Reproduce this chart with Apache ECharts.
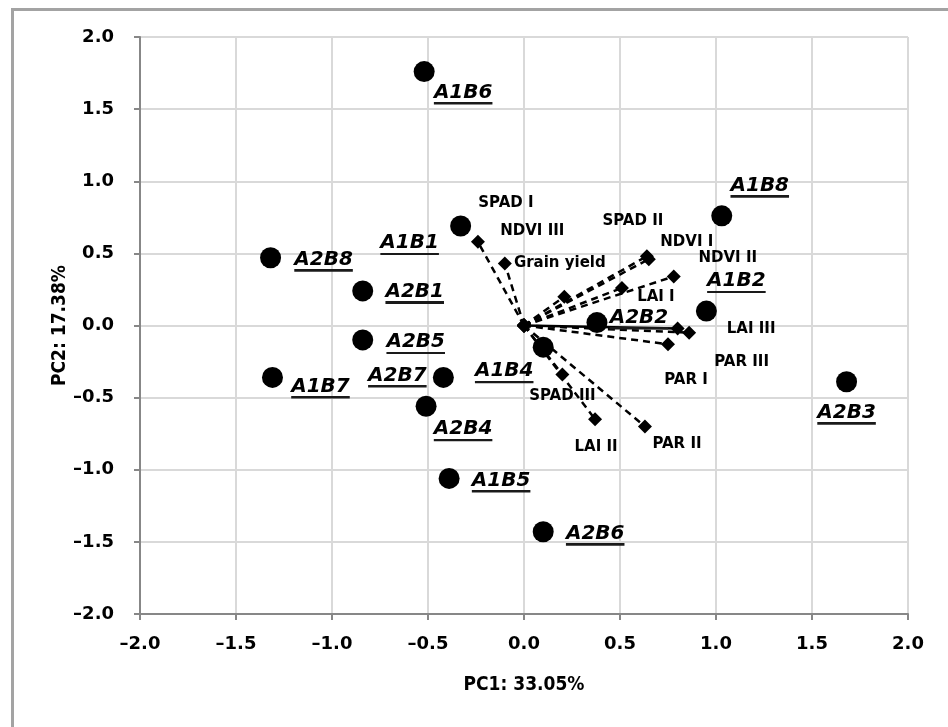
<!DOCTYPE html>
<html>
<head>
<meta charset="utf-8">
<script src="https://cdn.jsdelivr.net/npm/echarts@6/dist/echarts.min.js"></script>
<style>
html, body { margin: 0; padding: 0; background: #fff; overflow: hidden; width: 948px; height: 727px; }
#frame { position: absolute; left: 11px; top: 8px; width: 940px; height: 720px;
  border-left: 3px solid #a3a3a3; border-top: 3px solid #a3a3a3; box-sizing: border-box; }
#chart { position: absolute; left: 0; top: 0; width: 948px; height: 727px; }
</style>
</head>
<body>
<div id="frame"></div>
<div id="chart"></div>
<script>
// PCA 双标图 - 样本得分
const obsNames = ['A1B6', 'A1B8', 'A1B1', 'A2B8', 'A2B1', 'A2B5', 'A1B7', 'A2B7',
  'A2B4', 'A1B5', 'A2B6', 'A1B4', 'A2B2', 'A1B2', 'A2B3'];
const obsPC1 = [-0.52, 1.03, -0.33, -1.32, -0.84, -0.84, -1.31, -0.42,
  -0.51, -0.39, 0.10, 0.10, 0.38, 0.95, 1.68];
const obsPC2 = [1.76, 0.76, 0.69, 0.47, 0.24, -0.10, -0.36, -0.36,
  -0.56, -1.06, -1.43, -0.15, 0.02, 0.10, -0.39];

// 变量载荷
const varNames = ['SPAD I', 'Grain yield', 'NDVI III', 'LAI I', 'SPAD II', 'NDVI I',
  'NDVI II', 'PAR III', 'LAI III', 'PAR I', 'SPAD III', 'LAI II', 'PAR II'];
const varPC1 = [-0.24, -0.10, 0.21, 0.51, 0.64, 0.65, 0.78, 0.80, 0.86, 0.75, 0.20, 0.37, 0.63];
const varPC2 = [0.58, 0.43, 0.20, 0.26, 0.48, 0.46, 0.34, -0.02, -0.05, -0.13, -0.34, -0.65, -0.70];

const axisMin = -2.0;
const axisMax = 2.0;
const axisStep = 0.5;

// 标签偏移（像素）
const obsLabelOffset = {
  A1B6: [39, 21], A1B8: [38, -30], A1B1: [-51, 17], A2B8: [53, 2], A2B1: [52, 1],
  A2B5: [53, 2], A1B7: [48, 9], A2B7: [-46, -2], A2B4: [37, 23], A1B5: [52, 2],
  A2B6: [52, 2], A1B4: [-39, 24], A2B2: [42, -5], A1B2: [30, -30], A2B3: [0, 31]
};
const varLabelOffset = {
  'SPAD I': [28, -39], 'Grain yield': [55, 0], 'NDVI III': [-32, -66], 'LAI I': [34, 9],
  'SPAD II': [-14, -35], 'NDVI I': [38, -17], 'NDVI II': [54, -18], 'PAR III': [64, 34],
  'LAI III': [62, -4], 'PAR I': [18, 36], 'SPAD III': [0, 22], 'LAI II': [1, 28], 'PAR II': [32, 18]
};
const solidVectors = ['PAR III'];

const underline = {
  type: 'linear', x: 0, y: 0, x2: 0, y2: 1,
  colorStops: [
    { offset: 0, color: 'rgba(0,0,0,0)' },
    { offset: 0.9, color: 'rgba(0,0,0,0)' },
    { offset: 0.9, color: '#1a1a1a' },
    { offset: 1, color: '#1a1a1a' }
  ]
};

function fmtTick(v) {
  return v.toFixed(1).replace('-', '\u2013');
}

const axisCommon = {
  type: 'value',
  min: axisMin,
  max: axisMax,
  interval: axisStep,
  nameMoveOverlap: false,
  axisLine: { show: true, onZero: false, lineStyle: { color: '#878787', width: 2 } },
  axisTick: { show: true, length: 6, lineStyle: { color: '#878787', width: 2 } },
  splitLine: { show: true, lineStyle: { color: '#d9d9d9', width: 2 } },
  axisLabel: {
    color: '#000', fontFamily: 'DejaVu Sans', fontWeight: 'bold', fontSize: 18,
    formatter: fmtTick
  },
  nameTextStyle: {
    color: '#000', fontFamily: '"DejaVu Sans Condensed", "DejaVu Sans"',
    fontWeight: 'bold', fontSize: 19
  }
};

const series = [];

varNames.forEach((name, i) => {
  series.push({
    type: 'line',
    name: name,
    z: 2,
    symbol: 'diamond',
    symbolSize: 14,
    showAllSymbol: true,
    itemStyle: { color: '#000', opacity: 1 },
    lineStyle: {
      color: '#000', width: 2.5,
      type: solidVectors.includes(name) ? 'solid' : [7, 5]
    },
    emphasis: { disabled: true },
    data: [
      { value: [0, 0], label: { show: false } },
      {
        value: [varPC1[i], varPC2[i]],
        label: {
          show: true, position: 'inside', formatter: name,
          offset: varLabelOffset[name],
          color: '#000', fontFamily: 'DejaVu Sans', fontWeight: 'bold', fontSize: 15
        }
      }
    ]
  });
});

series.push({
  type: 'scatter',
  name: 'samples',
  z: 5,
  symbol: 'circle',
  symbolSize: 21,
  itemStyle: { color: '#000', opacity: 1 },
  emphasis: { disabled: true },
  data: obsNames.map((n, i) => ({
    name: n,
    value: [obsPC1[i], obsPC2[i]],
    label: { offset: obsLabelOffset[n] }
  })),
  label: {
    show: true,
    position: 'inside',
    formatter: '{b}',
    color: '#000',
    fontFamily: 'DejaVu Sans',
    fontWeight: 'bold',
    fontStyle: 'italic',
    fontSize: 20,
    lineHeight: 22,
    padding: [0, 0, 2, 0],
    backgroundColor: underline
  }
});

const chart = echarts.init(document.getElementById('chart'), null, { renderer: 'canvas' });
chart.setOption({
  animation: false,
  backgroundColor: 'transparent',
  grid: { left: 140, right: 40, top: 37, bottom: 113, outerBoundsMode: 'none' },
  xAxis: Object.assign({}, axisCommon, {
    name: 'PC1: 33.05%', nameLocation: 'middle', nameGap: 62,
    axisLabel: Object.assign({}, axisCommon.axisLabel, { margin: 21 })
  }),
  yAxis: Object.assign({}, axisCommon, {
    name: 'PC2: 17.38%', nameLocation: 'middle', nameGap: 70,
    axisLabel: Object.assign({}, axisCommon.axisLabel, { margin: 26 })
  }),
  series: series
});
</script>
</body>
</html>
